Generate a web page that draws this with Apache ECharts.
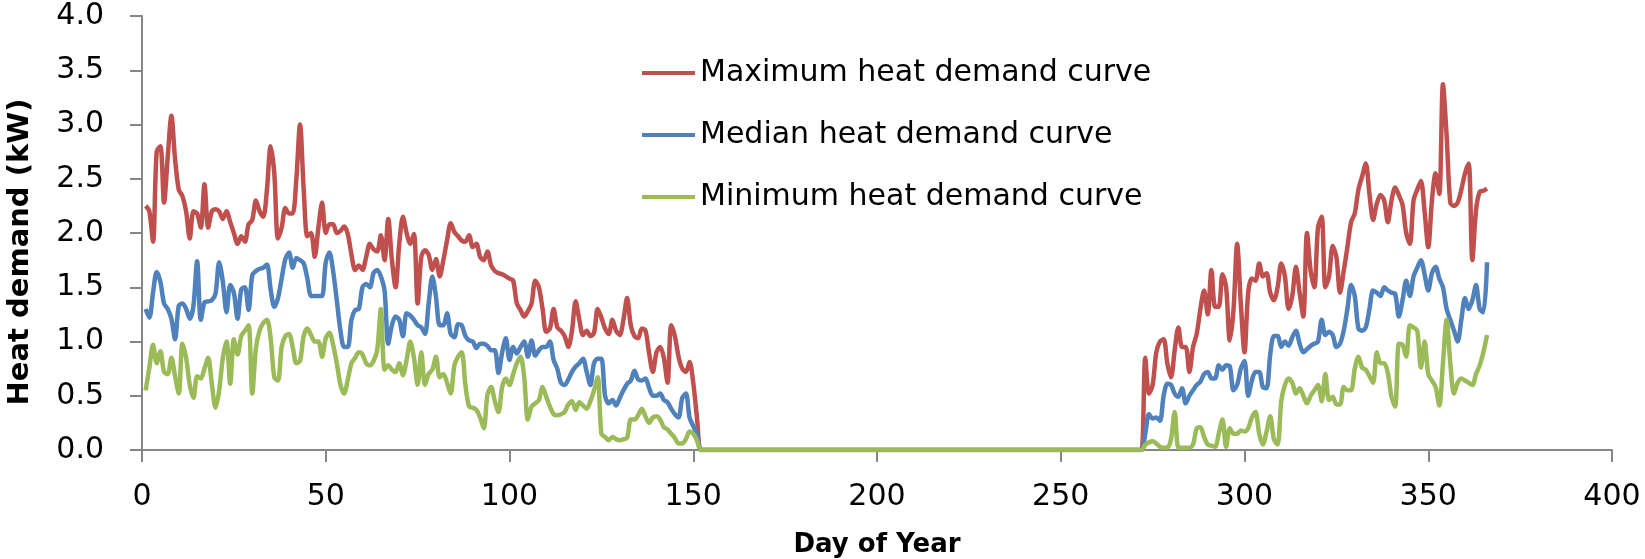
<!DOCTYPE html>
<html>
<head>
<meta charset="utf-8">
<script src="https://cdn.jsdelivr.net/npm/echarts@6/dist/echarts.min.js"></script>
<style>
html,body{margin:0;padding:0;background:#fff;}
#chart{width:1645px;height:559px;}
</style>
</head>
<body>
<div id="chart"></div>
<script>
// Day of year for first value
const firstDay = 1;
const xTicks = [0, 50, 100, 150, 200, 250, 300, 350, 400];
const yTicks = [0.0, 0.5, 1.0, 1.5, 2.0, 2.5, 3.0, 3.5, 4.0];
const seriesNames = ['Maximum heat demand curve', 'Median heat demand curve', 'Minimum heat demand curve'];

// Days 1-152 (heating season, spring)
const maxSpring = [
2.25,2.2,1.92,2.75,2.8,2.28,2.7,3.08,2.68,2.4,
2.34,2.2,1.95,2.2,2.18,2.05,2.45,2.05,2.2,2.22,
2.2,2.13,2.2,2.1,2.0,1.9,1.97,1.92,2.08,2.12,
2.3,2.2,2.15,2.4,2.8,2.55,1.95,2.05,2.23,2.18,
2.18,2.5,3.0,2.4,1.97,2.0,1.78,2.05,2.28,2.0,
2.08,2.08,2.0,2.02,2.06,1.99,1.8,1.66,1.7,1.66,
1.78,1.9,1.85,1.83,1.98,1.75,2.13,1.75,1.5,1.9,
2.15,2.0,1.9,1.99,1.35,1.78,1.84,1.8,1.66,1.76,
1.6,1.75,1.93,2.09,2.01,1.97,1.93,1.92,1.98,1.87,
1.9,1.78,1.75,1.83,1.7,1.65,1.63,1.62,1.6,1.58,
1.56,1.35,1.29,1.23,1.28,1.35,1.56,1.5,1.3,1.09,
1.12,1.3,1.13,1.1,1.05,0.95,1.1,1.37,1.2,1.06,
1.1,1.05,1.08,1.3,1.22,1.12,1.07,1.2,1.1,1.06,
1.2,1.4,1.15,1.05,1.03,1.12,1.1,0.89,0.72,0.9,
0.95,0.85,0.62,1.15,1.05,0.86,0.75,0.72,0.81,0.62,
0.3,0
];
const medSpring = [
1.3,1.22,1.45,1.64,1.55,1.35,1.3,1.21,1.02,1.33,
1.35,1.3,1.21,1.33,1.74,1.2,1.36,1.37,1.38,1.44,
1.73,1.55,1.27,1.52,1.45,1.21,1.48,1.5,1.29,1.61,
1.65,1.67,1.68,1.71,1.48,1.32,1.4,1.58,1.76,1.82,
1.68,1.77,1.75,1.72,1.58,1.42,1.42,1.42,1.42,1.73,
1.82,1.65,1.38,1.1,0.95,0.95,1.2,1.29,1.3,1.5,
1.53,1.5,1.63,1.66,1.6,1.47,0.98,1.15,1.23,1.2,
1.05,1.26,1.24,1.2,1.15,1.13,1.07,1.35,1.6,1.41,
1.15,1.15,1.26,1.07,1.04,1.16,1.15,1.05,1.01,1.0,
0.94,0.98,0.98,0.96,0.92,0.92,0.71,0.9,1.03,0.83,
0.95,0.89,0.95,1.0,0.86,1.01,0.87,0.92,0.95,0.95,
1.0,0.83,0.75,0.62,0.6,0.65,0.72,0.77,0.8,0.84,
0.72,0.6,0.8,0.84,0.84,0.5,0.43,0.46,0.41,0.48,
0.55,0.61,0.64,0.73,0.65,0.64,0.66,0.57,0.5,0.5,
0.52,0.46,0.44,0.38,0.33,0.3,0.48,0.52,0.3,0.22,
0.15,0
];
const minSpring = [
0.55,0.76,0.97,0.8,0.91,0.72,0.7,0.85,0.68,0.52,
0.98,0.85,0.6,0.48,0.68,0.66,0.75,0.85,0.61,0.39,
0.55,0.85,1.0,0.61,1.02,0.88,1.05,1.1,1.15,0.52,
0.94,1.1,1.17,1.2,1.03,0.67,0.64,0.95,1.05,1.07,
0.95,0.8,0.82,1.05,1.12,1.06,1.0,1.0,0.86,1.03,
1.08,0.97,0.8,0.6,0.52,0.65,0.8,0.85,0.9,0.88,
0.8,0.78,0.82,0.92,1.3,0.74,0.78,0.74,0.72,0.8,
0.69,0.83,1.0,0.85,0.6,0.9,0.6,0.7,0.74,0.86,
0.67,0.7,0.62,0.52,0.78,0.86,0.9,0.6,0.4,0.39,
0.37,0.3,0.2,0.51,0.58,0.45,0.35,0.58,0.66,0.6,
0.7,0.8,0.86,0.67,0.28,0.4,0.43,0.46,0.58,0.49,
0.4,0.33,0.32,0.33,0.35,0.42,0.45,0.37,0.44,0.41,
0.38,0.45,0.55,0.67,0.15,0.12,0.09,0.12,0.1,0.09,
0.1,0.11,0.28,0.28,0.32,0.38,0.31,0.25,0.3,0.31,
0.28,0.21,0.19,0.15,0.11,0.06,0.06,0.1,0.17,0.15,
0.09,0
];
// Days 153-272 (no heating)
const summerZeros = [
0,0,0,0,0,0,0,0,0,0, 0,0,0,0,0,0,0,0,0,0,
0,0,0,0,0,0,0,0,0,0, 0,0,0,0,0,0,0,0,0,0,
0,0,0,0,0,0,0,0,0,0, 0,0,0,0,0,0,0,0,0,0,
0,0,0,0,0,0,0,0,0,0, 0,0,0,0,0,0,0,0,0,0,
0,0,0,0,0,0,0,0,0,0, 0,0,0,0,0,0,0,0,0,0,
0,0,0,0,0,0,0,0,0,0, 0,0,0,0,0,0,0,0,0,0
];
// Days 273-366 (heating season, autumn)
const maxAutumn = [
0.85,0.52,0.6,0.9,1.0,1.02,0.8,0.67,0.92,1.13,
0.95,0.95,0.72,0.95,1.07,1.3,1.47,1.25,1.66,1.32,
1.32,1.62,1.5,1.01,1.29,1.9,1.35,0.9,1.45,1.58,
1.56,1.72,1.6,1.63,1.45,1.38,1.5,1.72,1.6,1.3,
1.42,1.69,1.45,1.23,2.0,1.65,1.5,2.05,2.15,1.5,
1.6,1.88,1.78,1.45,1.65,1.87,2.1,2.18,2.4,2.52,
2.64,2.36,2.12,2.27,2.35,2.3,2.1,2.3,2.42,2.35,
2.26,2.0,1.9,2.3,2.4,2.48,2.2,1.87,2.3,2.55,
2.36,3.37,2.9,2.28,2.25,2.28,2.4,2.55,2.64,1.75,
2.21,2.38,2.39,2.41
];
const medAutumn = [
0.15,0.33,0.29,0.3,0.27,0.5,0.61,0.6,0.52,0.49,
0.57,0.43,0.5,0.55,0.6,0.63,0.7,0.72,0.66,0.66,
0.78,0.74,0.78,0.77,0.55,0.6,0.75,0.82,0.5,0.64,
0.72,0.72,0.58,0.57,0.88,1.05,1.05,0.95,1.0,0.96,
1.04,1.1,0.98,0.9,0.93,0.96,0.98,1.0,1.2,1.06,
1.09,1.06,0.95,0.98,1.1,1.3,1.52,1.42,1.12,1.1,
1.13,1.3,1.47,1.45,1.42,1.5,1.47,1.45,1.44,1.23,
1.38,1.56,1.42,1.6,1.68,1.75,1.62,1.47,1.63,1.69,
1.58,1.5,1.3,1.2,1.1,1.0,1.2,1.4,1.3,1.38,
1.52,1.3,1.27,1.73
];
const minAutumn = [
0.05,0.07,0.08,0.06,0.03,0.02,0.02,0.1,0.35,0.02,
0.02,0.02,0.02,0.05,0.2,0.21,0.12,0.05,0.04,0.03,
0.15,0.28,0.03,0.2,0.15,0.15,0.18,0.17,0.2,0.3,
0.35,0.15,0.05,0.17,0.31,0.1,0.05,0.45,0.6,0.66,
0.62,0.52,0.57,0.5,0.43,0.5,0.55,0.6,0.45,0.7,
0.46,0.49,0.42,0.42,0.58,0.55,0.55,0.75,0.86,0.76,
0.74,0.68,0.62,0.9,0.8,0.8,0.71,0.49,0.4,0.98,
0.97,0.86,1.15,1.13,1.1,0.76,1.0,0.7,0.64,0.58,
0.41,0.8,1.2,0.8,0.52,0.62,0.66,0.64,0.62,0.6,
0.7,0.78,0.9,1.06
];

const maxCurve = [...maxSpring, ...summerZeros, ...maxAutumn];
const medianCurve = [...medSpring, ...summerZeros, ...medAutumn];
const minCurve = [...minSpring, ...summerZeros, ...minAutumn];

const toPairs = arr => arr.map((v, i) => [firstDay + i, v]);

const FONT = '"DejaVu Sans", "Noto Sans", sans-serif';
const AXIS_COLOR = '#868686';
const colors = ['#C0504D', '#4F81BD', '#9BBB59'];

const chart = echarts.init(document.getElementById('chart'), null, {renderer: 'canvas'});
chart.setOption({
  animation: false,
  backgroundColor: '#ffffff',
  color: colors,
  grid: {left: 142, right: 33, top: 16, bottom: 109, containLabel: false, outerBoundsMode: 'none'},
  legend: {
    orient: 'vertical',
    left: 637,
    top: 53,
    itemWidth: 53,
    itemHeight: 4,
    itemGap: 32,
    itemTextGap: 8,
    icon: 'rect',
    textStyle: {fontFamily: FONT, fontSize: 30, color: '#000', lineHeight: 30},
    data: seriesNames
  },
  xAxis: {
    type: 'value',
    min: xTicks[0],
    max: xTicks[xTicks.length - 1],
    interval: 50,
    name: 'Day of Year',
    nameLocation: 'middle',
    nameGap: 82,
    nameTextStyle: {fontFamily: FONT, fontSize: 26, fontWeight: 'bold', color: '#000'},
    axisLine: {show: true, onZero: false, lineStyle: {color: AXIS_COLOR, width: 2}},
    axisTick: {show: true, length: 12, lineStyle: {color: AXIS_COLOR, width: 2}},
    axisLabel: {fontFamily: FONT, fontSize: 30, color: '#000', margin: 32},
    splitLine: {show: false}
  },
  yAxis: {
    type: 'value',
    min: yTicks[0],
    max: yTicks[yTicks.length - 1],
    interval: 0.5,
    axisLine: {show: true, lineStyle: {color: AXIS_COLOR, width: 2}},
    axisTick: {show: true, length: 12, lineStyle: {color: AXIS_COLOR, width: 2}},
    axisLabel: {fontFamily: FONT, fontSize: 30, color: '#000', margin: 38,
      formatter: v => v.toFixed(1)},
    splitLine: {show: false}
  },
  graphic: [{
    type: 'text',
    x: 20,
    y: 252,
    rotation: Math.PI / 2,
    style: {
      text: 'Heat demand (kW)',
      font: 'bold 29px "DejaVu Sans", sans-serif',
      fill: '#000',
      align: 'center',
      verticalAlign: 'middle'
    }
  }],
  series: [
    {name: seriesNames[0], type: 'line', data: toPairs(maxCurve), showSymbol: false, smooth: 0.3,
      lineStyle: {width: 4.5, color: colors[0]}, z: 2},
    {name: seriesNames[1], type: 'line', data: toPairs(medianCurve), showSymbol: false, smooth: 0.3,
      lineStyle: {width: 4.5, color: colors[1]}, z: 3},
    {name: seriesNames[2], type: 'line', data: toPairs(minCurve), showSymbol: false, smooth: 0.3,
      lineStyle: {width: 4.5, color: colors[2]}, z: 4}
  ]
});
</script>
</body>
</html>
